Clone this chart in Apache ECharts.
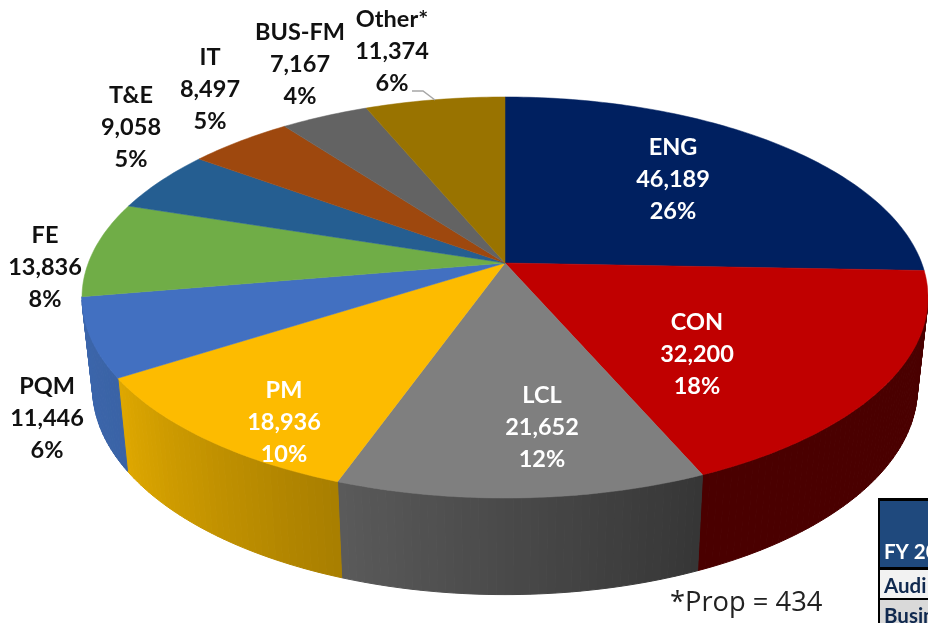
<!DOCTYPE html>
<html>
<head>
<meta charset="utf-8">
<style>html,body{margin:0;padding:0;background:#fff;overflow:hidden}#c{width:928px;height:623px}</style>
<script src="https://cdn.jsdelivr.net/npm/echarts@6/dist/echarts.min.js"></script>
</head>
<body>
<div id="c"></div>
<script>
// ---- data ----
const categories = ['ENG','CON','LCL','PM','PQM','FE','T&E','IT','BUS-FM','Other*'];
const values = [46189,32200,21652,18936,11446,13836,9058,8497,7167,11374];
const valueLabels = ['46,189','32,200','21,652','18,936','11,446','13,836','9,058','8,497','7,167','11,374'];
const percentLabels = ['26%','18%','12%','10%','6%','8%','5%','5%','4%','6%'];
const footnote = '*Prop = 434';
const tableRows = ['FY 20','Audi','Busin'];

// ---- styles ----
const topColors = ['#002060','#c00000','#7f7f7f','#fdbb00','#4270c1','#70ad47','#255e91','#9e480e','#636363','#997300'];
const wallFrom = ['#001030','#4a0000','#363636','#a87e00','#3a63a6','#70ad47','#255e91','#9e480e','#636363','#997300'];
const wallTo   = ['#001030','#4a0000','#5a5a5a','#dfa800','#3c66ac','#70ad47','#255e91','#9e480e','#636363','#997300'];
const labelColors = ['#fff','#fff','#fff','#fff','#111','#111','#111','#111','#111','#111'];
const labelCentres = [[673,179],[697,354],[542,427],[284,422],[47,418],[45,267],[131,127],[210,89],[300,64],[392,51]];

// ---- perspective projection of the pie disc ----
const CX=505, CY=263, A=416.7, B=194.6, P=0.172, SHRINK=0.025;
function rim(theta){
  const u=Math.sin(theta), v=Math.cos(theta), w=1+P*v;
  return {x:CX+A*u/w, y:CY-B*v/w, w:w, v:v};
}
function rimBottom(theta){
  const r=rim(theta);
  return {x:CX+(r.x-CX)*(1-SHRINK), y:r.y+56+33.6/r.w};
}
function mix(c1,c2,t){
  const a=parseInt(c1.slice(1),16), b=parseInt(c2.slice(1),16);
  const ch=s=>Math.round(((a>>s)&255)*(1-t)+((b>>s)&255)*t);
  return 'rgb('+ch(16)+','+ch(8)+','+ch(0)+')';
}
const total = values.reduce((s,v)=>s+v,0);
const STEP = Math.PI/180;

function renderItem(params, api){
  const i = params.dataIndex;
  let before = 0;
  for(let k=0;k<i;k++) before += values[k];
  const t0 = before/total*Math.PI*2;
  const t1 = (before+api.value(0))/total*Math.PI*2;
  const n = Math.max(2,Math.ceil((t1-t0)/STEP));
  const children = [];
  const pts=[[CX,CY]];
  for(let s=0;s<=n;s++){
    const th=t0+(t1-t0)*s/n, r=rim(th);
    pts.push([r.x,r.y]);
    if(s<n){
      const th2=t0+(t1-t0)*(s+1)/n, r2=rim(th2);
      if(r.v<-0.17||r2.v<-0.17){
        const b1=rimBottom(th), b2=rimBottom(th2);
        const col=mix(wallFrom[i],wallTo[i],(s+0.5)/n);
        children.push({type:'polygon',z2:1,shape:{points:[[r.x,r.y],[r2.x,r2.y],[b2.x,b2.y],[b1.x,b1.y]]},
          style:{fill:col,stroke:col,lineWidth:1}});
      }
    }
  }
  children.push({type:'polygon',z2:5,shape:{points:pts},style:{fill:topColors[i],stroke:topColors[i],lineWidth:0.5}});
  return {type:'group',children:children};
}
function renderLabel(params, api){
  const i=params.dataIndex, c=labelCentres[i];
  return {type:'text',z2:10,style:{
    text:categories[i]+'\n'+valueLabels[i]+'\n'+percentLabels[i],
    x:c[0],y:c[1],align:'center',verticalAlign:'middle',lineHeight:32,
    fill:labelColors[i],font:'bold 23.5px Lato'}};
}

const chart = echarts.init(document.getElementById('c'),null,{renderer:'canvas'});
chart.setOption({
  animation:false,
  backgroundColor:'#fff',
  series:[
    {type:'custom',coordinateSystem:'none',renderItem:renderItem,
     data:values.map(v=>[v]),silent:true,z:2},
    {type:'custom',coordinateSystem:'none',renderItem:renderLabel,
     data:values.map(v=>[v]),silent:true,z:3}
  ],
  graphic:[
    {type:'polyline',z:4,shape:{points:[[412,91],[423,91],[435,100]]},style:{stroke:'#a6a6a6',lineWidth:1.5,fill:'none'}},
    {type:'text',z:4,style:{text:footnote,x:670,y:603,verticalAlign:'middle',fill:'#222',font:'27.3px "Open Sans"'}},
    {type:'rect',z:1,shape:{x:878,y:498,width:60,height:130},style:{fill:'#000'}},
    {type:'rect',z:1,shape:{x:880,y:501,width:60,height:66},style:{fill:'#1f497d'}},
    {type:'rect',z:1,shape:{x:880,y:570,width:60,height:28},style:{fill:'#f2f2f2'}},
    {type:'rect',z:1,shape:{x:880,y:600,width:60,height:30},style:{fill:'#d9d9d9'}},
    {type:'text',z:2,style:{text:tableRows[0],x:884,y:552,verticalAlign:'middle',fill:'#fff',font:'bold 20.5px Lato'}},
    {type:'text',z:2,style:{text:tableRows[1],x:884,y:586,verticalAlign:'middle',fill:'#10294f',font:'bold 20.5px Lato'}},
    {type:'text',z:2,style:{text:tableRows[2],x:884,y:616,verticalAlign:'middle',fill:'#10294f',font:'bold 20.5px Lato'}}
  ]
});
</script>
</body>
</html>
